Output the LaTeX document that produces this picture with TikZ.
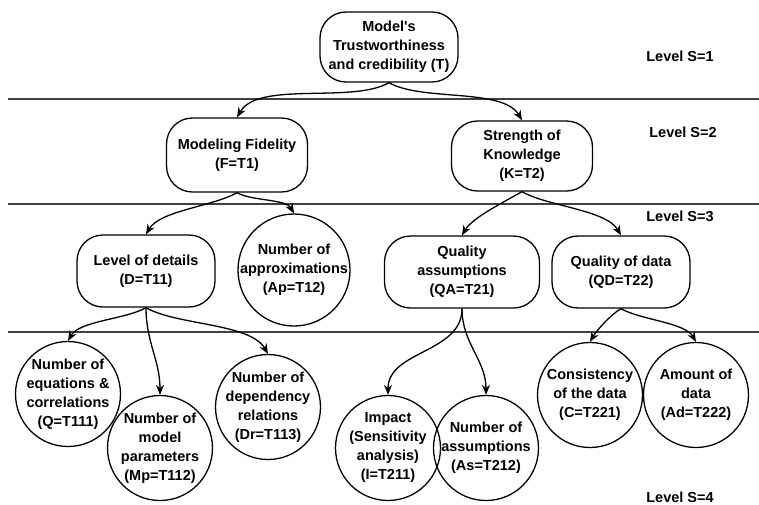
\documentclass[tikz,border=0pt]{standalone}
\usepackage{fontspec}
\setmainfont{Liberation Sans}
\usepackage{tikz}
\usetikzlibrary{arrows.meta, positioning, shapes.misc}
\tikzstyle{factor} = [rectangle, rounded corners=26pt, minimum width=138pt, minimum height=72pt, align=center, draw=black, line width=1.3pt]
\tikzstyle{leaf} = [circle, minimum size=105pt, inner sep=-15pt, align=center, draw=black, line width=1.3pt]
\tikzstyle{arrow} = [line width=1.3pt, -{Stealth[length=10pt, width=8pt]}]
\tikzstyle{toleft} = [out=-150, in=60, looseness=0.7]
\tikzstyle{toright} = [out=-30, in=120, looseness=0.7]
\tikzstyle{levelline} = [line width=1.3pt, draw=black!75]
\tikzset{
  font={\fontsize{14.5pt}{19pt}\selectfont\bfseries}}

\begin{document}
\begin{tikzpicture}[x=1pt, y=1pt]
    \useasboundingbox (0,0) rectangle (759,-504);

    \draw [levelline] (8,-99) -- (759,-99);
    \draw [levelline] (8,-204) -- (759,-204);
    \draw [levelline] (8,-332) -- (759,-332);

    \node (trust) [factor, minimum width=138pt, minimum height=70pt] at (389,-47) {Model\textquotesingle s\\Trustworthiness\\and credibility (T)};
    \node (fidelity) [factor, minimum width=141pt, minimum height=74pt] at (237,-155) {Modeling Fidelity\\(F=T1)};
    \node (knowledge) [factor, minimum width=141pt, minimum height=70pt] at (522,-156) {Strength of\\Knowledge\\(K=T2)};

    \node (details) [factor] at (146,-271) {Level of details\\(D=T11)};
    \node (approx) [leaf, minimum size=112pt] at (294,-270) {Number of\\approximations\\(Ap=T12)};
    \node (qualassump) [factor, minimum width=155pt] at (462,-272) {Quality\\assumptions\\(QA=T21)};
    \node (qualdata) [factor] at (621,-272) {Quality of data\\(QD=T22)};

    \node (equations) [leaf] at (68,-394) {Number of\\equations \&\\correlations\\(Q=T111)};
    \node (params) [leaf] at (160,-448) {Number of\\model\\parameters\\(Mp=T112)};
    \node (depend) [leaf] at (268,-407) {Number of\\dependency\\relations\\(Dr=T113)};
    \node (impact) [leaf] at (388,-448) {Impact\\(Sensitivity\\analysis)\\(I=T211)};
    \node (numassump) [leaf] at (486,-448) {Number of\\assumptions\\(As=T212)};
    \node (consist) [leaf] at (590,-395) {Consistency\\of the data\\(C=T221)};
    \node (amount) [leaf] at (696,-395) {Amount of\\data\\(Ad=T222)};

    \node (lvlone) at (680,-56) {Level S=1};
    \node (lvltwo) at (683,-132) {Level S=2};
    \node (lvlthree) at (680,-216) {Level S=3};
    \node (lvlfour) at (680,-497) {Level S=4};

    \draw [arrow] (trust.south) to[toleft] (fidelity.north);
    \draw [arrow] (trust.south) to[toright] (knowledge.north);
    \draw [arrow] (fidelity.south) to[toleft] (details.north);
    \draw [arrow] (fidelity.south) to[toright] (approx.north);
    \draw [arrow] (knowledge.south) to[toleft] (qualassump.north);
    \draw [arrow] (knowledge.south) to[toright] (qualdata.north);
    \draw [arrow] (details.south) to[toleft] (equations.north);
    \draw [arrow] (details.south) to[out=-90, in=90] (params.north);
    \draw [arrow] (details.south) to[toright] (depend.north);
    \draw [arrow] (qualassump.south) to[out=-90, in=90] (impact.north);
    \draw [arrow] (qualassump.south) to[out=-90, in=90] (numassump.north);
    \draw [arrow] (qualdata.south) to[toleft] (consist.north);
    \draw [arrow] (qualdata.south) to[toright] (amount.north);
\end{tikzpicture}
\end{document}
